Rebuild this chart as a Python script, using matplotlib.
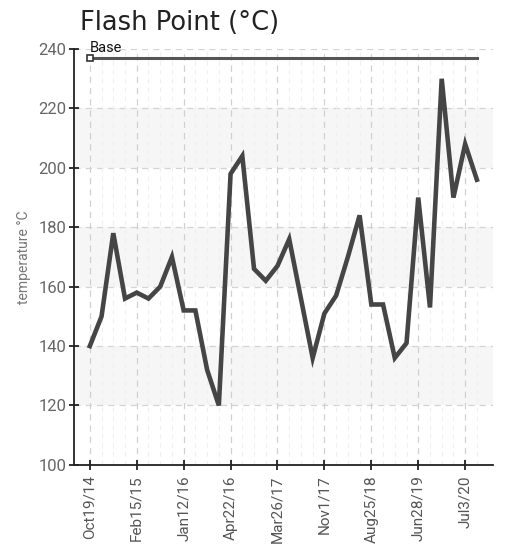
import numpy as np
import matplotlib
matplotlib.use("Agg")
import matplotlib.pyplot as plt

# flash point readings, one per sample
flash_point = [140, 150, 178, 156, 158, 156, 160, 170, 152, 152,
               132, 120, 198, 204, 166, 162, 167, 176, 156, 136,
               151, 157, 170, 184, 154, 154, 136, 141, 190, 153,
               230, 190, 208, 196]
tick_idx = [0, 4, 8, 12, 16, 20, 24, 28, 32]
tick_labels = ["Oct19/14", "Feb15/15", "Jan12/16", "Apr22/16", "Mar26/17",
               "Nov1/17", "Aug25/18", "Jun28/19", "Jul3/20"]
base_value = 237
base_label = "Base"
y_ticks = [100, 120, 140, 160, 180, 200, 220, 240]

narrow = ["Roboto", "DejaVu Sans"]
line_col = "#454545"

fig = plt.figure(figsize=(5.06, 5.45), dpi=100)
ax = fig.add_axes([0.146, 0.147, 0.828, 0.763])

x = np.arange(len(flash_point))
ax.set_xlim(-1.36, 34.36)
ax.set_ylim(100, 240)

# light bands
for lo in [120, 160, 200]:
    ax.axhspan(lo, lo + 20, color="#f6f6f6", zorder=0, lw=0)

# grid
for yv in y_ticks[1:]:
    ax.axhline(yv, color="#d4d4d4", lw=0.9, ls=(0, (5, 4)), zorder=1)
for xi in x:
    if xi in tick_idx:
        ax.axvline(xi, color="#d0d0d0", lw=0.9, ls=(0, (5, 4)), zorder=1)
    else:
        ax.axvline(xi, color="#efefef", lw=0.8, ls=(0, (4, 4)), zorder=1)

# base line
ax.plot([x[0], x[-1]], [base_value, base_value], color="#555555", lw=2.2, zorder=3)
ax.plot([x[0]], [base_value], marker="s", ms=5, mfc="white", mec="#333333", mew=1.2,
        zorder=4, clip_on=False)
ax.text(x[0], base_value + 1.0, base_label, fontsize=10.5, family=narrow,
        color="#111111", va="bottom", ha="left")

# data line
ax.plot(x, flash_point, color=line_col, lw=3.3, solid_joinstyle="miter", zorder=5)

ax.set_xticks(tick_idx)
ax.set_xticklabels(tick_labels, rotation=90, family=narrow, fontsize=11, color="#555555")
ax.set_yticks(y_ticks)
ax.set_yticklabels([str(v) for v in y_ticks], family=narrow, fontsize=12, color="#666666")
ax.tick_params(axis="both", direction="inout", length=7, width=1.3, color="#222222")
ax.tick_params(axis="x", pad=4)
ax.tick_params(axis="y", pad=2)

for s in ["top", "right"]:
    ax.spines[s].set_visible(False)
for s in ["left", "bottom"]:
    ax.spines[s].set_color("#222222")
    ax.spines[s].set_linewidth(1.3)

ax.set_ylabel("temperature °C", family=narrow, fontsize=10, color="#777777", labelpad=5)
fig.text(0.158, 0.981, "Flash Point (°C)", fontsize=18.5, color="#222222",
         family="DejaVu Sans", va="top", ha="left")

fig.savefig("out.png", dpi=100)
